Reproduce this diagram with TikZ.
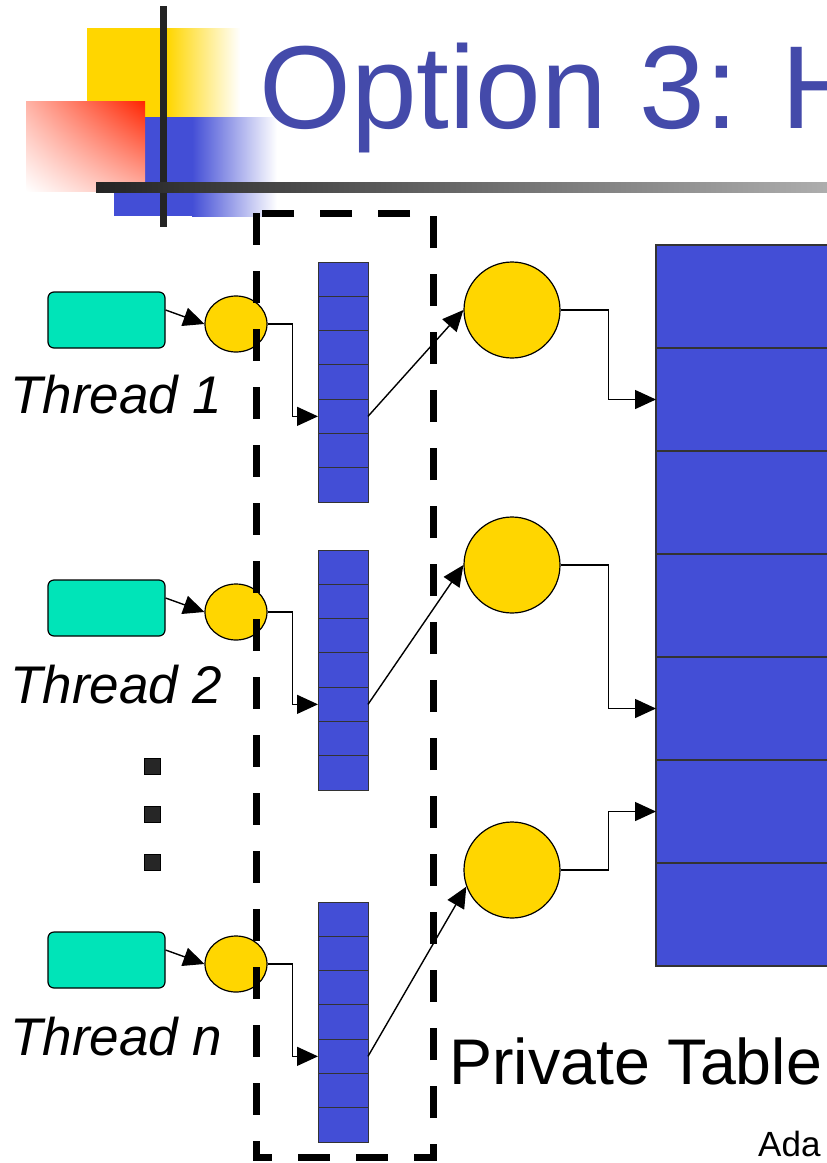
\documentclass[tikz,border=0pt]{standalone}
\usepackage{fontspec}
\setmainfont{Liberation Sans}
\usetikzlibrary{positioning,arrows.meta,shapes.geometric,shadings}
\definecolor{slideblue}{RGB}{67,78,214}
\definecolor{titleblue}{RGB}{68,74,170}
\definecolor{logoyellow}{RGB}{255,214,0}
\definecolor{threadgreen}{RGB}{0,228,184}
\definecolor{logored}{RGB}{255,36,0}
\definecolor{bardark}{RGB}{36,36,36}
\tikzset{
  threadbox/.style={draw=black, line width=1.2pt, fill=threadgreen, rounded corners=6pt,
    minimum width=117pt, minimum height=56pt, inner sep=0pt},
  keyoval/.style={draw=black, line width=1.2pt, fill=logoyellow, ellipse,
    minimum width=62pt, minimum height=56pt, inner sep=0pt},
  slot/.style={draw=black!80, line width=1pt, fill=slideblue, minimum width=50pt,
    minimum height=34.3pt, inner sep=0pt, outer sep=0pt},
  bucket/.style={draw=black, line width=1.2pt, fill=logoyellow, circle,
    minimum size=96pt, inner sep=0pt},
  tablerow/.style={draw=black!80, line width=1.5pt, fill=slideblue, minimum width=260pt,
    minimum height=103pt, inner sep=0pt, outer sep=0pt},
  dotsq/.style={draw=black, line width=1pt, fill=black!85, minimum size=16pt, inner sep=0pt},
  threadname/.style={anchor=base west, inner sep=0pt, font=\fontsize{53}{55}\selectfont\itshape},
  link/.style={line width=1.4pt, -{Triangle[length=21pt,width=19pt]}},
  dashbox/.style={line width=7pt, dash pattern=on 32pt off 26pt}
}
\begin{document}
\begin{tikzpicture}[x=1pt, y=-1pt]
\useasboundingbox (0,0) rectangle (827,1163);
% logo
\fill[logoyellow] (87,28) rectangle (167,117);
\shade[left color=logoyellow, right color=white] (167,28) rectangle (240,117);
\fill[slideblue] (114,117) rectangle (192,216);
\shade[left color=slideblue, right color=white] (192,117) rectangle (277,216);
\shade[upper right=logored, lower left=white, upper left=logored!35!white, lower right=logored!35!white] (26,101) rectangle (145,191);
\fill[bardark] (160,6) rectangle (167,227);
\shade[left color=bardark, right color=black!32] (96,182) rectangle (827,192);
\node[anchor=base west, inner sep=0pt, text=titleblue, font=\fontsize{118}{120}\selectfont] (title) at (259,128) {Option 3: H};

% threads
\node[threadbox] (th1) at (106.5,320) {};
\node[threadbox] (th2) at (106.5,608) {};
\node[threadbox] (thn) at (106.5,960) {};
\node[threadname] (name1) at (10,413) {Thread 1};
\node[threadname] (name2) at (10,703) {Thread 2};
\node[threadname] (namen) at (10,1055) {Thread n};
\node[dotsq] (dot1) at (152,766) {};
\node[dotsq] (dot2) at (152,814) {};
\node[dotsq] (dot3) at (152,862) {};

\node[keyoval] (key1) at (236,324) {};
\node[keyoval] (key2) at (236,612) {};
\node[keyoval] (keyn) at (236,964) {};

% private buffers
\foreach \t/\top in {1/262, 2/550, n/902} {
  \node[slot, anchor=north] (buf\t-1) at (343,\top) {};
  \foreach \c [remember=\c as \p (initially 1)] in {2,...,7}
    \node[slot, below=0pt of buf\t-\p] (buf\t-\c) {};
}

\node[bucket] (bk1) at (512,310) {};
\node[bucket] (bk2) at (512,565) {};
\node[bucket] (bkn) at (512,870) {};

% shared table
\node[tablerow, anchor=north west] (r1) at (656,245) {};
\foreach \c [remember=\c as \p (initially 1)] in {2,...,7}
  \node[tablerow, below=0pt of r\p] (r\c) {};

\draw[link] ([yshift=10pt]th1.east) -- (key1.west);
\draw[link] ([yshift=10pt]th2.east) -- (key2.west);
\draw[link] ([yshift=10pt]thn.east) -- (keyn.west);
\draw[link] (key1.east) -- ++(25,0) |- (buf1-5.west);
\draw[link] (key2.east) -- ++(25,0) |- (buf2-5.west);
\draw[link] (keyn.east) -- ++(25,0) |- (bufn-5.west);
\draw[link] (buf1-5.east) -- (bk1.west);
\draw[link] (buf2-5.east) -- (bk2.west);
\draw[link] (bufn-5.east) -- (bkn.200);
\draw[link] (bk1.east) -- ++(48,0) |- (r2.west);
\draw[link] (bk2.east) -- ++(48,0) |- (r5.west);
\draw[link] (bkn.east) -- ++(48,0) |- (r6.west);

\draw[dashbox] (256,213) rectangle (433,1157);
\node[anchor=base west, inner sep=0pt, font=\fontsize{64.5}{66}\selectfont] (private) at (449,1084) {Private Table};
\node[anchor=base west, inner sep=0pt, font=\fontsize{35}{37}\selectfont] (author) at (758,1156) {Ada};
\end{tikzpicture}
\end{document}
